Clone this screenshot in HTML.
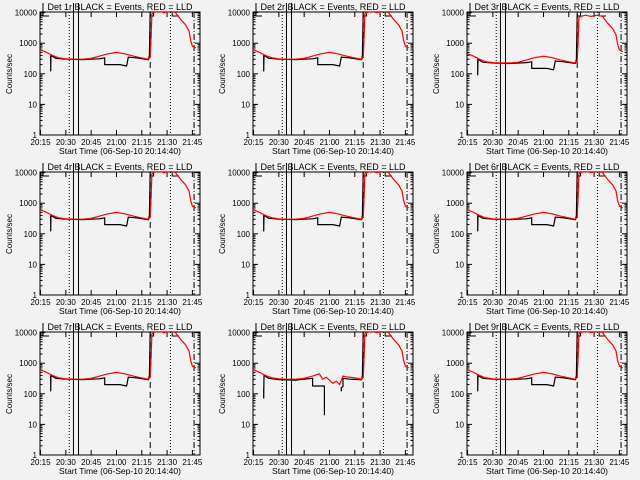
<!DOCTYPE html>
<html><head><meta charset="utf-8"><style>
html,body{margin:0;padding:0;background:#f2f2f2;}
svg{display:block;font-family:"Liberation Sans",sans-serif;}
</style></head><body>
<svg id="c" width="640" height="480" xmlns="http://www.w3.org/2000/svg"></svg>
<script>
const panelNames = ["1r","2r","3r","4r","5r","6r","7r","8r","9r"];
const panelScale = [1,1,0.75,1,1,1,1,1,1];
const xTickLabels = ["20:15","20:30","20:45","21:00","21:15","21:30","21:45"];
const xTickMinutes = [15,30,45,60,75,90,105];
const yTickLabels = ["1","10","100","1000","10000"];
const yTickValues = [1,10,100,1000,10000];
const redTimes = [15,18,22,26,30,35,40,45,50,55,60,65,70,75,79,80,80.5,81,82,85,88,92,95,98,101,103,104,105,107];
const redValues = [600,520,400,330,310,300,300,320,380,450,500,450,380,330,300,350,1500,9000,10000,11000,10000,11000,10000,6000,4000,2500,1200,800,700];
const blackTimes = [21,21,21.2,24,30,40,45,50,53,53,62,66,67,72,79,79.5,80];
const blackValues = [400,120,400,320,300,290,300,310,330,200,200,180,350,330,290,400,12000];
const red8Times = [15,18,22,26,30,35,40,45,50,54,56,58,60,62,64,66,68,70,75,79,80,80.5,81,82,85,88,92,95,98,101,103,104,105,107];
const red8Values = [600,520,400,330,310,300,300,320,380,450,300,350,280,220,260,200,380,360,330,300,350,1500,9000,10000,11000,10000,11000,10000,6000,4000,2500,1200,800,700];
const black8Times = [21,21,21.2,24,30,40,45,50,50,57,57,57,67,67,68,68,72,79,79.5,80];
const black8Values = [160,70,400,320,290,280,300,320,180,180,20,null,120,160,170,320,300,290,400,12000];
const vlines = [{t:32,s:"1,2"},{t:34.5,s:""},{t:37.5,s:""},{t:80,s:"6,4"},{t:92,s:"1,2"},{t:106,s:"6,2,1,2"}];

const svg=document.getElementById('c');
const NS="http://www.w3.org/2000/svg";
function mk(tag,attrs,parent){const e=document.createElementNS(NS,tag);for(const k in attrs)e.setAttribute(k,attrs[k]);(parent||svg).appendChild(e);return e;}
for(let p=0;p<9;p++){
  const ox=Math.round((p%3)*213.33), oy=Math.floor(p/3)*160;
  const L=ox+40,R=ox+200,T=oy+12,B=oy+135;
  const xs=t=>L+(t-14.67)*1.687;
  const ys=v=>B-Math.log10(v)*30.6;
  const g=mk('g',{});
  
  
  const cp=mk('clipPath',{id:'cp'+p},g);mk('rect',{x:L,y:T,width:R-L,height:B-T},cp);
  let t=mk('text',{x:ox+120,y:oy+10,'font-size':9,'text-anchor':'middle'},g);
  t.textContent="Det "+panelNames[p]+" BLACK = Events, RED = LLD";
  
  let f=mk('rect',{x:L,y:T,width:R-L,height:B-T,fill:'none',stroke:'#000','stroke-width':1},g);
  
  yTickValues.forEach((v,i)=>{const y=ys(v);
    mk('line',{x1:L,x2:L+5,y1:y,y2:y,stroke:'#000'},g);mk('line',{x1:R,x2:R-5,y1:y,y2:y,stroke:'#000'},g);
    if(i<4)for(let m=2;m<10;m++){const yy=ys(v*m);mk('line',{x1:L,x2:L+2.5,y1:yy,y2:yy,stroke:'#000'},g);mk('line',{x1:R,x2:R-2.5,y1:yy,y2:yy,stroke:'#000'},g);}
    const tl=mk('text',{x:L-3,y:y+3,'font-size':8,'text-anchor':'end'},g);tl.textContent=yTickLabels[i];
    });
  xTickMinutes.forEach((m,i)=>{const x=xs(m);
    mk('line',{x1:x,x2:x,y1:B,y2:B-5,stroke:'#000'},g);mk('line',{x1:x,x2:x,y1:T,y2:T+5,stroke:'#000'},g);
    const tl=mk('text',{x:x,y:B+10,'font-size':8,'text-anchor':'middle'},g);tl.textContent=xTickLabels[i];
    });
  let xl=mk('text',{x:ox+120,y:oy+154,'font-size':8.5,'text-anchor':'middle'},g);xl.textContent="Start Time (06-Sep-10 20:14:40)";
  
  let yl=mk('text',{x:0,y:0,'font-size':8,'text-anchor':'middle',transform:`translate(${ox+12},${oy+74}) rotate(-90)`},g);yl.textContent="Counts/sec";
  
  vlines.forEach(v=>{const x=xs(v.t);const top=v.s===""?oy+3:T;
    const l=mk('line',{x1:x,x2:x,y1:top,y2:B,stroke:'#000','stroke-width':1,'stroke-dasharray':v.s},g);
    });
  mk('path',{d:`M${L+3},${oy+3}V${T+4}H${L+9}`,fill:'none',stroke:'#000'},g);
  mk('path',{d:`M${xs(80)},${T+4}H${xs(82)}V${T}`,fill:'none',stroke:'#000'},g);
  mk('path',{d:`M${xs(93)},${T}V${T+4}H${xs(97)}`,fill:'none',stroke:'#000'},g);
  const s=panelScale[p];
  const bt=p===7?black8Times:blackTimes, bv=p===7?black8Values:blackValues;
  const rt=p===7?red8Times:redTimes, rv=p===7?red8Values:redValues;
  let d="",pen=false;
  bt.forEach((tt,i)=>{const v=bv[i];if(v===null){pen=false;return;}d+=(pen?"L":"M")+xs(tt).toFixed(1)+","+ys(v*s).toFixed(1);pen=true;});
  const bl=mk('path',{d:d,fill:'none',stroke:'#000','stroke-width':1.2,'clip-path':`url(#cp${p})`},g);
  
  d="";rt.forEach((tt,i)=>{d+=(i?"L":"M")+xs(tt).toFixed(1)+","+ys(rv[i]*s).toFixed(1);});
  const rl=mk('path',{d:d,fill:'none',stroke:'#ff0000','stroke-width':1.2,'clip-path':`url(#cp${p})`},g);
  
}
</script>
</body></html>
